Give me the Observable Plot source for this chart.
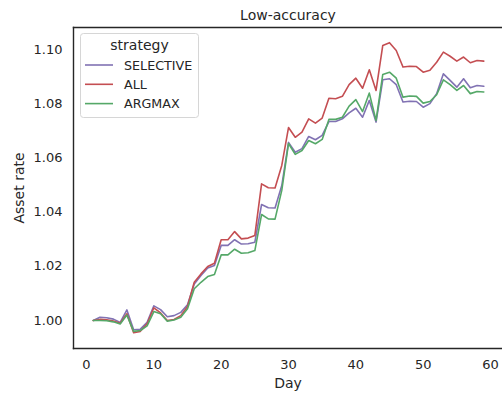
<!DOCTYPE html>
<html>
<head>
<meta charset="utf-8">
<script src="https://cdn.jsdelivr.net/npm/d3@7"></script>
<script src="https://cdn.jsdelivr.net/npm/@observablehq/plot@0.6"></script>
<style>
  html, body { margin: 0; padding: 0; background: #fff; overflow: hidden; }
  #chart svg { display: block; max-width: none !important; }
</style>
</head>
<body>
<div id="chart"></div>
<script>
const days = d3.range(1, 60);
const strategies = ["SELECTIVE", "ALL", "ARGMAX"];
const colors = ["#8172B3", "#C44E52", "#55A868"];
const xTicks = [0, 10, 20, 30, 40, 50, 60];
const yTicks = [1.00, 1.02, 1.04, 1.06, 1.08, 1.10];

const selective = [
  1.0000, 1.0012, 1.0010, 1.0005, 0.9993, 1.0039, 0.9966, 0.9968, 0.9993, 1.0054,
  1.0040, 1.0014, 1.0018, 1.0030, 1.0058, 1.0135, 1.0166, 1.0194, 1.0203, 1.0277,
  1.0277, 1.0298, 1.0282, 1.0283, 1.0289, 1.0428, 1.0416, 1.0415, 1.0498, 1.0657,
  1.0621, 1.0634, 1.0679, 1.0667, 1.0683, 1.0734, 1.0734, 1.0744, 1.0766, 1.0783,
  1.0750, 1.0812, 1.0732, 1.0888, 1.0892, 1.0870, 1.0806, 1.0809, 1.0808, 1.0787,
  1.0800, 1.0837, 1.0910, 1.0886, 1.0861, 1.0892, 1.0859, 1.0867, 1.0864
];
const all = [
  1.0000, 1.0004, 1.0003, 0.9998, 0.9990, 1.0025, 0.9955, 0.9960, 0.9988, 1.0047,
  1.0028, 1.0000, 1.0004, 1.0018, 1.0052, 1.0141, 1.0172, 1.0199, 1.0211, 1.0298,
  1.0298, 1.0328, 1.0301, 1.0304, 1.0314, 1.0504, 1.0490, 1.0489, 1.0572, 1.0712,
  1.0676, 1.0695, 1.0744, 1.0728, 1.0747, 1.0820, 1.0818, 1.0827, 1.0870, 1.0894,
  1.0857, 1.0925, 1.0849, 1.1015, 1.1025, 1.0996, 1.0935, 1.0938, 1.0937, 1.0916,
  1.0923, 1.0953, 1.0990, 1.0975, 1.0957, 1.0972, 1.0951, 1.0959, 1.0957
];
const argmax = [
  1.0000, 1.0000, 0.9999, 0.9995, 0.9987, 1.0020, 0.9960, 0.9963, 0.9980, 1.0033,
  1.0025, 0.9997, 1.0002, 1.0012, 1.0043, 1.0117, 1.0141, 1.0162, 1.0170, 1.0242,
  1.0242, 1.0263, 1.0248, 1.0250, 1.0258, 1.0391, 1.0375, 1.0374, 1.0480, 1.0653,
  1.0613, 1.0627, 1.0664, 1.0652, 1.0668, 1.0742, 1.0742, 1.0750, 1.0791, 1.0815,
  1.0771, 1.0839, 1.0738, 1.0908, 1.0916, 1.0894, 1.0824, 1.0828, 1.0827, 1.0802,
  1.0808, 1.0833, 1.0888, 1.0870, 1.0849, 1.0867, 1.0837, 1.0845, 1.0843
];

const series = [selective, all, argmax];
const data = [];
strategies.forEach((s, i) => {
  series[i].forEach((v, j) => data.push({strategy: s, day: days[j], value: v}));
});

const ink = "#262626";
const font = "DejaVu Sans, sans-serif";

const chart = Plot.plot({
  width: 502,
  height: 394,
  marginLeft: 73,
  marginRight: 0,
  marginTop: 27,
  marginBottom: 46,
  style: {fontFamily: font, color: ink, background: "#fff", overflow: "visible", maxWidth: "none"},
  x: {domain: [-1.931, 61.78]},
  y: {domain: [0.98967, 1.1081]},
  color: {domain: strategies, range: colors},
  marks: [
    Plot.line(data, {x: "day", y: "value", stroke: "strategy", z: "strategy", strokeWidth: 1.6}),
    Plot.frame({anchor: "left", stroke: ink, strokeWidth: 1.4}),
    Plot.frame({anchor: "bottom", stroke: ink, strokeWidth: 1.4}),
    Plot.frame({anchor: "top", stroke: ink, strokeWidth: 1.4}),
    Plot.axisX({ticks: xTicks, tickSize: 0, tickPadding: 11, fontSize: 13, tickFormat: d3.format("d"),
      label: "Day", labelAnchor: "center", labelArrow: "none", labelOffset: 39, fill: ink}),
    Plot.axisY({ticks: yTicks, tickSize: 0, tickPadding: 11, fontSize: 13, tickFormat: d3.format(".2f"),
      label: "Asset rate", labelAnchor: "center", labelArrow: "none", labelOffset: 59, fill: ink})
  ]
});

document.getElementById("chart").appendChild(chart);

const svg = d3.select(chart);
svg.selectAll("g[aria-label='x-axis label'] text, g[aria-label='y-axis label'] text")
  .attr("font-size", 14);

// title
svg.append("text")
  .attr("x", 288).attr("y", 20)
  .attr("text-anchor", "middle")
  .attr("font-family", font).attr("font-size", 14).attr("fill", ink)
  .text("Low-accuracy");

// legend
const lg = svg.append("g").attr("font-family", font).attr("fill", ink);
lg.append("rect").attr("x", 80.5).attr("y", 33.5).attr("width", 118).attr("height", 84)
  .attr("rx", 3).attr("fill", "#fff").attr("fill-opacity", 0.8).attr("stroke", "#d6d6d6");
lg.append("text").attr("x", 139.5).attr("y", 50).attr("text-anchor", "middle")
  .attr("font-size", 14).text("strategy");
strategies.forEach((s, i) => {
  const yy = 65 + i * 19.3;
  lg.append("line").attr("x1", 85).attr("x2", 113).attr("y1", yy).attr("y2", yy)
    .attr("stroke", colors[i]).attr("stroke-width", 1.6);
  lg.append("text").attr("x", 124).attr("y", yy + 4.5).attr("text-anchor", "start")
    .attr("font-size", 12.7).text(s);
});
</script>
</body>
</html>
